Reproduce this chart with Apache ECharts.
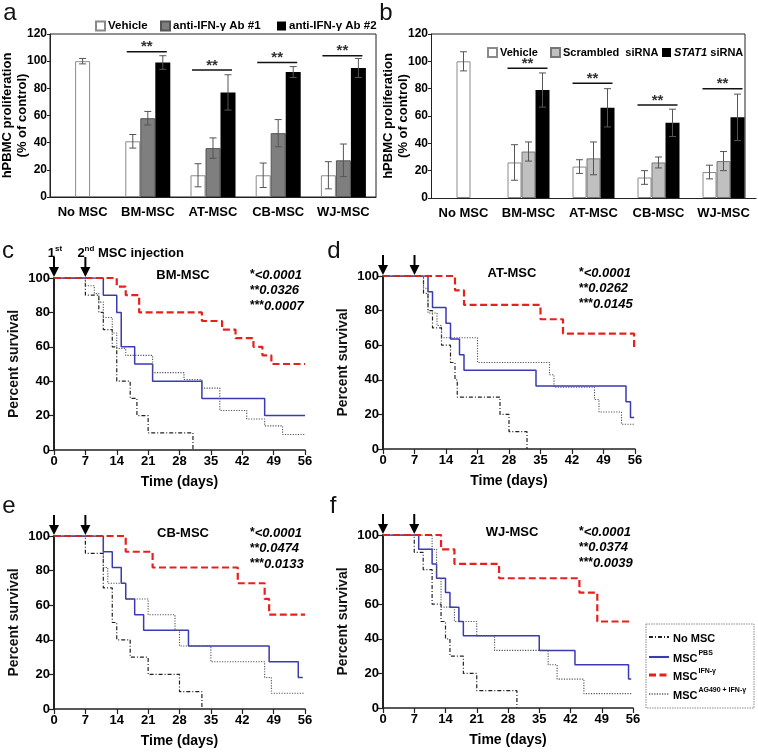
<!DOCTYPE html>
<html><head><meta charset="utf-8">
<script src="https://cdn.jsdelivr.net/npm/echarts@6/dist/echarts.min.js"></script>
<style>html,body{margin:0;padding:0;background:#fff}#c{width:758px;height:752px}</style>
</head><body><div id="c"></div>
<script>
const FONT = '"Liberation Sans", Arial, sans-serif';

// ---------- Panel a / b data ----------
const barCats = ['No MSC', 'BM-MSC', 'AT-MSC', 'CB-MSC', 'WJ-MSC'];
const aNames = ['Vehicle', 'anti-IFN-γ Ab #1', 'anti-IFN-γ Ab #2'];
const aVehicle = [100, 41, 16, 16, 16];
const aVehicleErr = [2, 5, 8.5, 9, 10];
const aAb1 = [null, 58, 36, 47, 27];
const aAb1Err = [0, 5, 7.5, 10, 12];
const aAb2 = [null, 99, 77, 92, 95];
const aAb2Err = [0, 5, 13, 4, 7];
const aSig = [null, 107, 93.5, 99, 104];

const bNames = ['Vehicle', 'Scrambled  siRNA', 'STAT1 siRNA'];
const bVehicle = [100, 26, 23, 15, 19];
const bVehicleErr = [7, 13, 5, 5, 5];
const bScr = [null, 34, 29, 26, 27];
const bScrErr = [0, 7, 12, 4, 7];
const bStat = [null, 79, 66, 55, 59];
const bStatErr = [0, 12.5, 14, 10, 17];
const bSig = [null, 95, 84, 68, 80];

// ---------- Survival data (day, % survival) ----------
const survNames = ['No MSC', 'MSC PBS', 'MSC IFN-γ', 'MSC AG490 + IFN-γ'];
const survTitles = ['BM-MSC', 'AT-MSC', 'CB-MSC', 'WJ-MSC'];
const survP = [
  ['<0.0001', '0.0326', '0.0007'],
  ['<0.0001', '0.0262', '0.0145'],
  ['<0.0001', '0.0474', '0.0133'],
  ['<0.0001', '0.0374', '0.0039']
];
const pStars = ['*', '**', '***'];
const injectionDays = [0, 7];
const timeTicks = [0, 7, 14, 21, 28, 35, 42, 49, 56];

const cNoMSC = [[0,100],[7,90],[10,80],[11,70],[13,60],[14,40],[17,30],[18.5,20],[21,10],[31,0]];
const cPBS   = [[0,100],[11,90],[14,80],[15,60],[18,50],[22,40],[33,30],[47,20],[56,20]];
const cIFN   = [[0,100],[14,95],[16,90],[19,80],[33,75],[37.5,70],[40.5,65],[44.5,60],[46.5,55],[48.5,50],[56,50]];
const cAG    = [[0,100],[7,95.5],[9,91],[10,86],[11,77],[13,68],[14,59],[16,55],[22,45],[29,41],[33,36],[37,23],[43,18],[47,14],[51,9],[56,9]];

const dNoMSC = [[0,100],[9,90],[10,80],[11,70],[13,60],[15,50],[16,40],[16.5,30],[26,20],[28,10],[32,0]];
const dPBS   = [[0,100],[10,90.9],[11,81.8],[14,72.7],[15,63.6],[17,54.5],[18,45.5],[34,36.4],[54,27.3],[55,18.2],[55.8,18.2]];
const dIFN   = [[0,100],[16,91.7],[18,83.3],[35,75],[40,66.7],[55.8,58.3]];
const dAG    = [[0,100],[9,92.9],[10,78.6],[12,71.4],[13,64.3],[21,50],[37,42.9],[38,35.7],[47,28.6],[48,21.4],[53,14.3],[55.8,14.3]];

const eNoMSC = [[0,100],[7,90],[11,70],[13,50],[14,40],[17,30],[21,20],[28,10],[33,0]];
const ePBS   = [[0,100],[11,90.9],[13,81.8],[15,72.7],[16,63.6],[18,54.5],[20,45.5],[30,36.4],[48,27.3],[54.5,18.2],[55.5,18.2]];
const eIFN   = [[0,100],[16,90.9],[22,81.8],[41,72.7],[47,63.6],[48,54.5],[56,54.5]];
const eAG    = [[0,100],[11,81.8],[12,72.7],[16,63.6],[21,54.5],[27,45.5],[28,36.4],[35,27.3],[47,18.2],[48.5,9.1],[56,9.1]];

const fNoMSC = [[0,100],[7,90],[9,80],[11,60],[13,50],[14,40],[15,30],[18,20],[21,10],[30,0]];
const fPBS   = [[0,100],[8,91.7],[11,83.3],[12,75],[14,66.7],[15,58.3],[17,50],[18,41.7],[35,33.3],[43,25],[55,16.7],[55.6,16.7]];
const fIFN   = [[0,100],[13,91.7],[16,83.3],[26,75],[44,66.7],[48,50],[55.6,50]];
const fAG    = [[0,100],[11,91.7],[12,75],[13,58.3],[16,50],[21,41.7],[25,33.3],[37,25],[39,16.7],[45,8.3],[55.6,8.3]];

const survData = [
  [cNoMSC, cPBS, cIFN, cAG],
  [dNoMSC, dPBS, dIFN, dAG],
  [eNoMSC, ePBS, eIFN, eAG],
  [fNoMSC, fPBS, fIFN, fAG]
];

// ---------- styles ----------
const survStyles = [
  {color:'#222', width:1.2, type:[4,2,1,2]},
  {color:'#3a3ab4', width:1.5, type:'solid'},
  {color:'#e8201c', width:2.2, type:[7,3.5]},
  {color:'#555', width:1.1, type:[1.2,1.4]}
];
const drawOrder = [0, 3, 1, 2];

const chart = echarts.init(document.getElementById('c'));

const axisCol = '#222';
const boldLabel = (size) => ({fontWeight:'bold', fontSize:size, color:'#000', fontFamily:FONT});

function catAxis(gi, show) {
  return {
    gridIndex: gi, type: 'category', data: barCats, show: show,
    axisLine: {lineStyle: {color: axisCol, width: 1}},
    axisTick: {length: 5, lineStyle: {color: axisCol}},
    axisLabel: Object.assign(boldLabel(13), {margin: 9, interval: 0})
  };
}
function barYAxis(gi, gap) {
  return {
    gridIndex: gi, type: 'value', min: 0, max: 120, interval: 20,
    axisLine: {show: true, lineStyle: {color: axisCol}},
    axisTick: {show: true, length: 3, lineStyle: {color: axisCol}},
    splitLine: {show: false},
    axisLabel: Object.assign(boldLabel(12), {margin: 3}),
    name: 'hPBMC proliferation\n(% of control)', nameLocation: 'middle', nameGap: gap, nameMoveOverlap: false,
    nameTextStyle: {fontWeight: 'bold', fontSize: 13, color: '#000', lineHeight: 15, fontFamily: FONT}
  };
}

function errRender(offsetFn) {
  return function (params, api) {
    const i = api.value(0);
    const lo = api.coord([i, api.value(1)]);
    const hi = api.coord([i, api.value(2)]);
    const cx = lo[0] + offsetFn(i);
    const cap = 3.5;
    const st = {stroke: '#555', lineWidth: 1};
    return {type: 'group', children: [
      {type: 'line', shape: {x1: cx, y1: lo[1], x2: cx, y2: hi[1]}, style: st},
      {type: 'line', shape: {x1: cx - cap, y1: hi[1], x2: cx + cap, y2: hi[1]}, style: st},
      {type: 'line', shape: {x1: cx - cap, y1: lo[1], x2: cx + cap, y2: lo[1]}, style: st}
    ]};
  };
}
function errSeries(xi, yi, means, errs, offsetFn) {
  const data = [];
  means.forEach((m, i) => { if (m != null) data.push([i, m - errs[i], m + errs[i]]); });
  return {type: 'custom', xAxisIndex: xi, yAxisIndex: yi, data: data, z: 5,
    encode: {x: 0, y: [1, 2]}, renderItem: errRender(offsetFn), silent: true};
}
function sigSeries(xi, yi, vals) {
  const data = [];
  vals.forEach((v, i) => { if (v != null) data.push([i, v]); });
  return {type: 'custom', xAxisIndex: xi, yAxisIndex: yi, data: data, z: 6, silent: true,
    encode: {x: 0, y: 1},
    renderItem: function (params, api) {
      const p = api.coord([api.value(0), api.value(1)]);
      return {type: 'group', children: [
        {type: 'line', shape: {x1: p[0] - 21, y1: p[1], x2: p[0] + 19, y2: p[1]}, style: {stroke: '#111', lineWidth: 1.5}},
        {type: 'text', x: p[0] - 1, y: p[1] + 3, style: {text: '**', fill: '#333', font: 'bold 15px ' + FONT, align: 'center', verticalAlign: 'bottom'}}
      ]};
    }};
}
const firstOnly = (arr) => arr.map((v, i) => i === 0 ? v : '-');
const restOnly = (arr) => arr.map((v, i) => (i === 0 || v == null) ? '-' : v);

const whiteStyle = {color: '#fff', borderColor: '#8a8a8a', borderWidth: 1};
const series = [];
// panel a bars
series.push({type: 'bar', name: aNames[0], xAxisIndex: 0, yAxisIndex: 0, data: restOnly(aVehicle), barWidth: 15, barGap: '0%', itemStyle: whiteStyle});
series.push({type: 'bar', name: aNames[1], xAxisIndex: 0, yAxisIndex: 0, data: restOnly(aAb1), barWidth: 15, barGap: '0%', itemStyle: {color: '#7f7f7f', borderColor: '#555', borderWidth: 1}});
series.push({type: 'bar', name: aNames[2], xAxisIndex: 0, yAxisIndex: 0, data: restOnly(aAb2), barWidth: 15, barGap: '0%', itemStyle: {color: '#000'}});
series.push({type: 'bar', name: aNames[0], xAxisIndex: 1, yAxisIndex: 0, data: firstOnly(aVehicle), barWidth: 15, itemStyle: whiteStyle});
series.push(errSeries(0, 0, aVehicle, aVehicleErr, i => i === 0 ? 0 : -15));
series.push(errSeries(0, 0, aAb1, aAb1Err, i => 0));
series.push(errSeries(0, 0, aAb2, aAb2Err, i => 15));
series.push(sigSeries(0, 0, aSig));
// panel b bars
series.push({type: 'bar', name: bNames[0], xAxisIndex: 2, yAxisIndex: 1, data: restOnly(bVehicle), barWidth: 14, barGap: '0%', itemStyle: whiteStyle});
series.push({type: 'bar', name: bNames[1], xAxisIndex: 2, yAxisIndex: 1, data: restOnly(bScr), barWidth: 14, barGap: '0%', itemStyle: {color: '#c0c0c0', borderColor: '#777', borderWidth: 1}});
series.push({type: 'bar', name: bNames[2], xAxisIndex: 2, yAxisIndex: 1, data: restOnly(bStat), barWidth: 14, barGap: '0%', itemStyle: {color: '#000'}});
series.push({type: 'bar', name: bNames[0], xAxisIndex: 3, yAxisIndex: 1, data: firstOnly(bVehicle), barWidth: 14, itemStyle: whiteStyle});
series.push(errSeries(2, 1, bVehicle, bVehicleErr, i => i === 0 ? 0 : -14));
series.push(errSeries(2, 1, bScr, bScrErr, i => 0));
series.push(errSeries(2, 1, bStat, bStatErr, i => 14));
series.push(sigSeries(2, 1, bSig));
// survival
survData.forEach((panel, k) => {
  drawOrder.forEach(j => {
    const s = survStyles[j];
    series.push({type: 'line', name: survNames[j], xAxisIndex: 4 + k, yAxisIndex: 2 + k,
      data: panel[j], step: 'end', symbol: 'none', silent: true, z: 3 + j,
      color: s.color, lineStyle: {color: s.color, width: s.width, type: s.type}});
  });
});

const gridBase = {outerBoundsMode: 'none', containLabel: false};
const grids = [
  {left: 50, top: 34, width: 326, height: 163, show: true, borderColor: '#222', borderWidth: 1},
  {left: 431, top: 34, width: 325, height: 164},
  {left: 54, top: 278, width: 251, height: 172},
  {left: 383, top: 276, width: 252, height: 173},
  {left: 54, top: 536, width: 251, height: 173},
  {left: 383, top: 535, width: 250, height: 173}
].map(gd => Object.assign({}, gridBase, gd));

const xAxes = [catAxis(0, true), catAxis(0, false), catAxis(1, true), catAxis(1, false)];
const yAxes = [barYAxis(0, 20), barYAxis(1, 20)];
for (let k = 0; k < 4; k++) {
  xAxes.push({gridIndex: 2 + k, type: 'value', min: timeTicks[0], max: timeTicks[timeTicks.length - 1], interval: 7,
    axisLine: {lineStyle: {color: axisCol, width: 1.5}},
    axisTick: {show: true, length: 5, lineStyle: {color: axisCol, width: 1.2}},
    splitLine: {show: false},
    axisLabel: Object.assign(boldLabel(13), {margin: 5}),
    name: 'Time (days)', nameLocation: 'middle', nameGap: 25, nameMoveOverlap: false,
    nameTextStyle: {fontWeight: 'bold', fontSize: 14, color: '#000', fontFamily: FONT}});
  yAxes.push({gridIndex: 2 + k, type: 'value', min: 0, max: 100, interval: 20,
    axisLine: {show: true, lineStyle: {color: axisCol, width: 2}},
    axisTick: {show: true, length: 5, lineStyle: {color: axisCol, width: 1.2}},
    splitLine: {show: false},
    axisLabel: Object.assign(boldLabel(13), {margin: 4}),
    name: 'Percent survival', nameLocation: 'middle', nameGap: 33, nameMoveOverlap: false,
    nameTextStyle: {fontSize: 14, fontWeight: 'bold', color: '#111', fontFamily: FONT}});
}

// one legend per item so each sits where the reference puts it
const aLegendLeft = [95, 160, 277];
const bLegendLeft = [487, 550, 662];
const legends = [];
aNames.forEach((n, i) => legends.push({data: [n], left: aLegendLeft[i], top: 20, icon: 'rect', itemWidth: 9, itemHeight: 9,
  selectedMode: false, padding: 0, textStyle: {fontWeight: 'bold', fontSize: 11.5, color: '#000', fontFamily: FONT, padding: [0, 0, 0, -2]}}));
bNames.forEach((n, i) => legends.push({data: [n], left: bLegendLeft[i], top: 47, icon: 'rect', itemWidth: 9, itemHeight: 9,
  selectedMode: false, padding: 0,
  textStyle: {fontWeight: 'bold', fontSize: 11, color: '#000', fontFamily: FONT, padding: [0, 0, 0, -2],
    rich: {it: {fontStyle: 'italic', fontWeight: 'bold', fontSize: 11, fontFamily: FONT}}},
  formatter: nm => nm.indexOf('STAT1') === 0 ? '{it|STAT1} siRNA' : nm}));

const option = {
  animation: false,
  backgroundColor: '#fff',
  textStyle: {fontFamily: FONT},
  grid: grids,
  xAxis: xAxes,
  yAxis: yAxes,
  legend: legends,
  series: series
};
chart.setOption(option);

// ---------- annotations positioned through the axes ----------
const panelLetters = [['a', 10, 13], ['b', 386, 13], ['c', 8, 251], ['d', 334, 251], ['e', 9, 506], ['f', 333, 506]];
const g = [];
panelLetters.forEach(p => g.push({type: 'text', x: p[1], y: p[2], style: {text: p[0], font: '24px ' + FONT, fill: '#111', align: 'center', verticalAlign: 'middle'}}));

// frame of panel b
(function () {
  const base = chart.convertToPixel({yAxisIndex: 1}, 0);
  const tl = chart.convertToPixel({yAxisIndex: 1}, 120);
  const xl = grids[1].left;
  g.push({type: 'polyline', shape: {points: [[xl, tl], [745, tl], [745, base]]}, style: {stroke: '#222', lineWidth: 1, fill: null}});
})();

for (let k = 0; k < 4; k++) {
  const top = chart.convertToPixel({yAxisIndex: 2 + k}, 100);
  const left = chart.convertToPixel({xAxisIndex: 4 + k}, 0);
  injectionDays.forEach(d => {
    const x = chart.convertToPixel({xAxisIndex: 4 + k}, d);
    const y1 = top - 21, y2 = top - 1;
    g.push({type: 'line', shape: {x1: x, y1: y1, x2: x, y2: y2 - 8}, style: {stroke: '#000', lineWidth: 2}});
    g.push({type: 'polygon', shape: {points: [[x - 5, y2 - 10], [x + 5, y2 - 10], [x, y2]]}, style: {fill: '#000'}});
  });
  g.push({type: 'text', x: left + 129, y: top - 3, style: {text: survTitles[k], font: 'bold 13px ' + FONT, fill: '#000', align: 'center', verticalAlign: 'middle'}});
  survP[k].forEach((p, r) => {
    g.push({type: 'text', x: left + 196, y: top - 3 + r * 15.5, style: {
      text: '{s|' + pStars[r] + '}{i|' + p + '}',
      rich: {s: {font: 'bold 12px ' + FONT, fill: '#000'}, i: {font: 'italic bold 13px ' + FONT, fill: '#000'}},
      align: 'left', verticalAlign: 'middle'}});
  });
  if (k === 0) {
    const x0 = chart.convertToPixel({xAxisIndex: 4}, injectionDays[0]);
    const x7 = chart.convertToPixel({xAxisIndex: 4}, injectionDays[1]);
    const r = {n: {font: 'bold 13px ' + FONT, fill: '#000', lineHeight: 15, verticalAlign: 'bottom'},
               s: {font: 'bold 8px ' + FONT, fill: '#000', lineHeight: 15, verticalAlign: 'top'}};
    g.push({type: 'text', x: x0 + 1, y: top - 26, style: {text: '{n|1}{s|st}', rich: r, align: 'center', verticalAlign: 'middle'}});
    g.push({type: 'text', x: x7 - 8, y: top - 26, style: {text: '{n|2}{s|nd}{n| MSC injection}', rich: r, align: 'left', verticalAlign: 'middle'}});
  }
}

// survival legend (drawn with the series' own line styles)
(function () {
  const bx = 646, by = 624, bw = 108, bh = 84;
  g.push({type: 'rect', shape: {x: bx, y: by, width: bw, height: bh}, style: {fill: '#fff', stroke: '#8a8a8a', lineWidth: 1, lineDash: [1.5, 1]}, z: 10});
  const rowY = [637, 657, 675, 694];
  const rich = {
    m: {font: 'bold 11px ' + FONT, fill: '#000', lineHeight: 14, verticalAlign: 'bottom'},
    s: {font: 'bold 7px ' + FONT, fill: '#000', lineHeight: 14, verticalAlign: 'top', padding: [0, 0, 0, 1]}
  };
  survNames.forEach((n, j) => {
    const s = survStyles[j];
    const dash = Array.isArray(s.type) ? s.type : null;
    g.push({type: 'line', shape: {x1: bx + 3, y1: rowY[j], x2: bx + 23, y2: rowY[j]}, style: {stroke: s.color, lineWidth: s.width + 0.6, lineDash: dash}, z: 11});
    const parts = n.split(' ');
    const txt = n === 'No MSC' ? '{m|No MSC}' : '{m|' + parts[0] + '}{s|' + parts.slice(1).join(' ') + '}';
    g.push({type: 'text', x: bx + 27, y: rowY[j], style: {text: txt, rich: rich, align: 'left', verticalAlign: 'middle'}, z: 11});
  });
})();

chart.setOption({graphic: g});
</script>
</body></html>
